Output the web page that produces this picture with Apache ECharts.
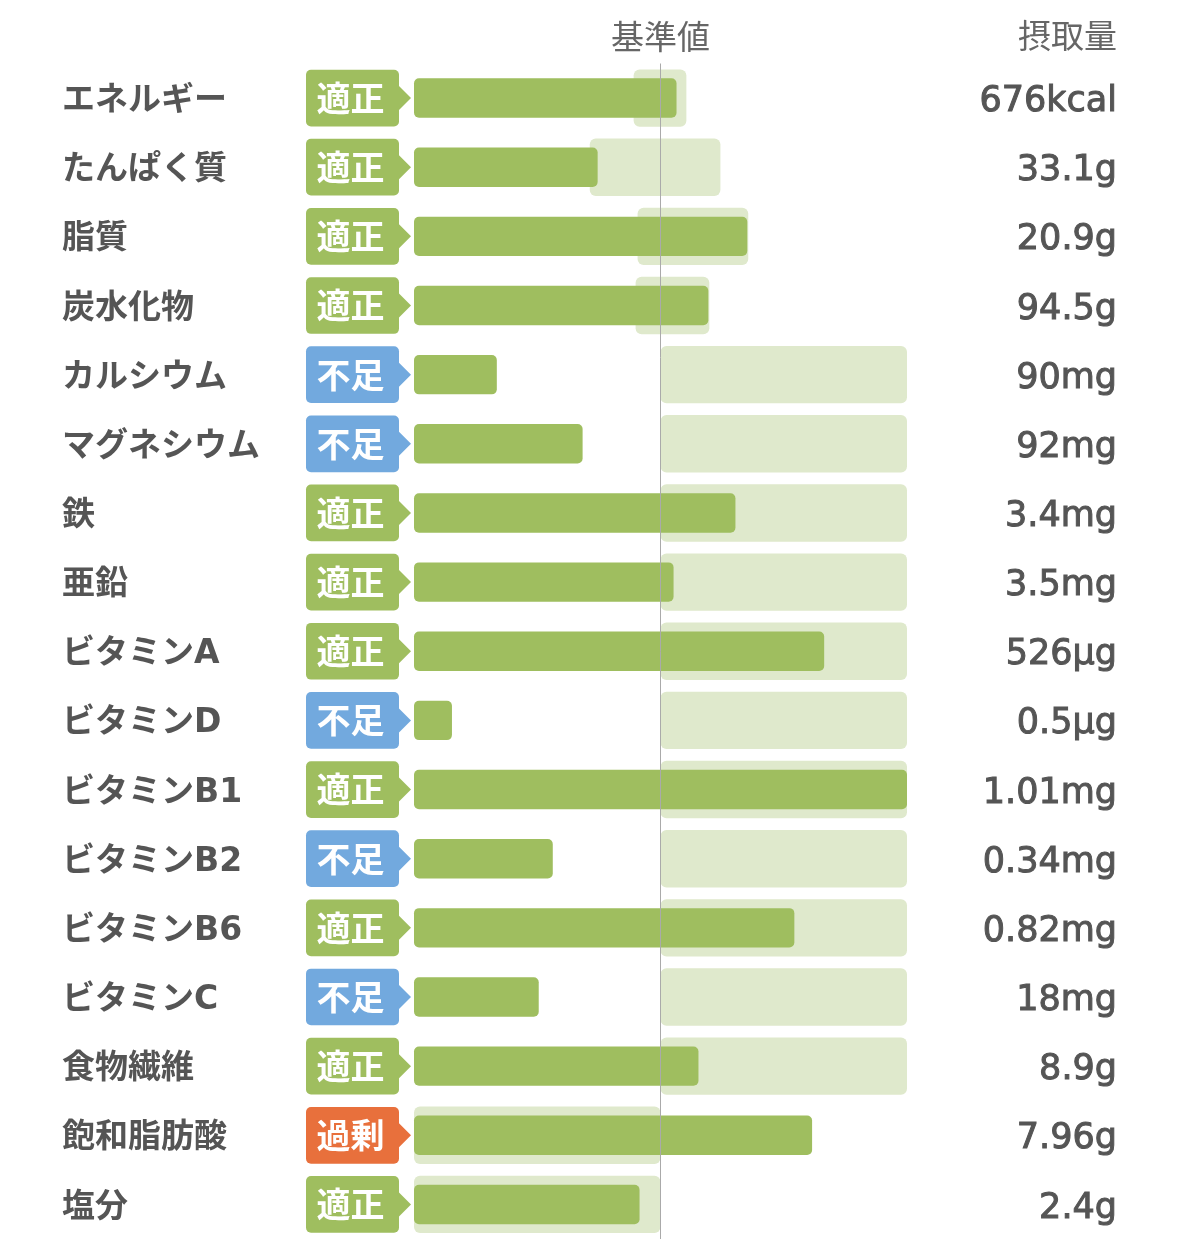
<!DOCTYPE html>
<html><head><meta charset="utf-8">
<script src="https://cdn.jsdelivr.net/npm/echarts@6/dist/echarts.min.js"></script>
<style>html,body{margin:0;padding:0;background:#fff}#c{width:1179px;height:1256px}</style>
</head><body><div id="c"></div>
<script>
const categories = ['エネルギー','たんぱく質','脂質','炭水化物','カルシウム','マグネシウム','鉄','亜鉛','ビタミンA','ビタミンD','ビタミンB1','ビタミンB2','ビタミンB6','ビタミンC','食物繊維','飽和脂肪酸','塩分'];
const amountLabels = ['676kcal','33.1g','20.9g','94.5g','90mg','92mg','3.4mg','3.5mg','526µg','0.5µg','1.01mg','0.34mg','0.82mg','18mg','8.9g','7.96g','2.4g'];
const intakePct = [106.5,74.5,135.2,119.4,33.6,68.4,130.4,105.3,166.4,15.4,200,56.3,154.3,50.6,115.4,161.5,91.5];
const rangeMin = [89.1,71.3,90.7,89.9,100,100,100,100,100,100,100,100,100,100,100,0,0];
const rangeMax = [110.5,124.3,135.6,119.8,200,200,200,200,200,200,200,200,200,200,200,100,100];
const statuses = ['適正','適正','適正','適正','不足','不足','適正','適正','適正','不足','適正','不足','適正','不足','適正','過剰','適正'];
const tickLabels = {100:'基準値'};

const statusColors = {'適正':'#9fbe5f','不足':'#72a9de','過剰':'#e8703c'};
const FONT = '"Noto Sans CJK JP", "Noto Sans", sans-serif';
const MIXFONT = '"DejaVu Sans", "Noto Sans CJK JP", sans-serif';

const chart = echarts.init(document.getElementById('c'), null, {renderer:'canvas'});

const rangeData = categories.map((c,i)=>[i, rangeMin[i], rangeMax[i]]);
const tagData = categories.map((c,i)=>[i, statuses[i]]);

chart.setOption({
  animation:false,
  textStyle:{fontFamily:FONT},
  title:{text:'摂取量', right:62, top:19, padding:0, textStyle:{fontFamily:FONT, fontSize:33, fontWeight:'normal', color:'#666'}},
  grid:{left:414, right:272, top:63.5, bottom:17, containLabel:false},
  xAxis:{type:'value', min:0, max:200, interval:100, position:'top',
    axisLine:{show:false}, axisTick:{show:false}, splitLine:{show:false},
    axisLabel:{formatter:v=>tickLabels[v]||'', fontFamily:FONT, fontSize:33, color:'#666', margin:11}},
  yAxis:[
    {type:'category', data:categories, inverse:true, position:'left',
      axisLine:{show:false}, axisTick:{show:false},
      axisLabel:{align:'left', margin:352, formatter:v=>'{n|'+v+'}',
        rich:{n:{padding:[7,0,0,0], fontFamily:MIXFONT, fontSize:33, fontWeight:'bold', color:'#555'}}}},
    {type:'category', data:amountLabels, inverse:true, position:'right',
      axisLine:{show:false}, axisTick:{show:false},
      axisLabel:{align:'right', margin:210, formatter:v=>'{v|'+v+'}',
        rich:{v:{padding:[8,0,0,0], fontFamily:MIXFONT, fontSize:35, fontWeight:'normal', color:'#555',
          textBorderColor:'#555', textBorderWidth:1}}}}
  ],
  series:[
    {type:'custom', name:'range', data:rangeData, z:1, clip:false,
      renderItem:function(params, api){
        const idx = api.value(0);
        const p1 = api.coord([api.value(1), idx]);
        const p2 = api.coord([api.value(2), idx]);
        const h = api.size([0,1])[1]*0.83;
        return {type:'rect', shape:{x:p1[0], y:p1[1]-h/2, width:p2[0]-p1[0], height:h, r:6},
          style:{fill:'#dfe9cc'}};
      }},
    {type:'bar', name:'intake', data:intakePct, barWidth:'57%', z:2,
      itemStyle:{color:'#9fbe5f', borderRadius:5}},
    {type:'custom', name:'tags', data:tagData, z:3, clip:false,
      encode:{x:-1, y:0},
      renderItem:function(params, api){
        const idx = api.value(0);
        const st = statuses[idx];
        const p = api.coord([0, idx]);
        const h = api.size([0,1])[1]*0.82;
        const x0 = p[0]-108, x1 = p[0]-15, tip = p[0]-3, cy = p[1];
        return {type:'group', children:[
          {type:'rect', shape:{x:x0, y:cy-h/2, width:x1-x0, height:h, r:5}, style:{fill:statusColors[st]}},
          {type:'polygon', shape:{points:[[x1-1,cy-13],[tip,cy],[x1-1,cy+13]]}, style:{fill:statusColors[st]}},
          {type:'text', style:{x:(x0+x1)/2-2, y:cy, text:st, fill:'#fff', fontFamily:FONT, fontSize:34, fontWeight:'bold', align:'center', verticalAlign:'middle'}}
        ]};
      }},
    {type:'line', name:'ref', data:[], z:10, silent:true,
      markLine:{silent:true, symbol:['none','none'], label:{show:false},
        lineStyle:{color:'#aaa', width:1, type:'solid'}, data:[{xAxis:100}]}}
  ]
});
</script></body></html>
